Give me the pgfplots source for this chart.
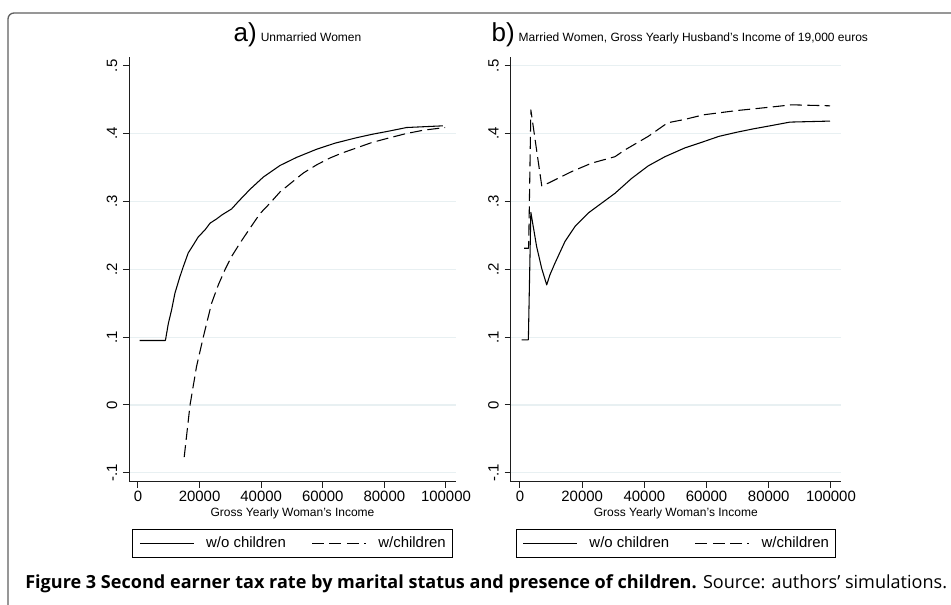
\documentclass[border=0pt]{standalone}
\usepackage{pgfplots}
\pgfplotsset{compat=1.18}
\usepackage{fontspec}
\setmainfont{Liberation Sans}
\newfontfamily\capfont{Open Sans}
\definecolor{gridc}{RGB}{232,240,242}
\definecolor{framec}{RGB}{95,95,95}
\definecolor{axc}{RGB}{30,30,30}

\pgfplotstableread{
x y
500 0.095
8900 0.095
9850 0.120
10900 0.140
12010 0.165
13600 0.189
14720 0.204
16300 0.224
17970 0.236
19600 0.248
21750 0.258
23400 0.268
25540 0.2743
27200 0.280
30400 0.289
32600 0.300
36400 0.318
40700 0.336
46100 0.353
51500 0.365
58000 0.377
64000 0.386
71000 0.394
76000 0.399
81800 0.404
87200 0.409
99000 0.4115
}\aSolid
\pgfplotstableread{
x y
15000 -0.077
16900 0.000
19000 0.0565
21200 0.100
23900 0.150
26080 0.177
28200 0.199
30410 0.219
33100 0.2385
36360 0.2605
39600 0.282
42860 0.2975
46100 0.314
49890 0.328
53700 0.342
58010 0.354
62300 0.364
66000 0.371
71000 0.379
76000 0.387
81800 0.394
87000 0.400
92600 0.405
99700 0.409
}\aDash
\pgfplotstableread{
x y
500 0.096
2700 0.096
3500 0.284
5360 0.2335
6970 0.2016
8600 0.177
9650 0.192
11250 0.209
14470 0.241
17680 0.263
21970 0.283
26260 0.2975
30550 0.312
35910 0.334
41260 0.3525
46620 0.366
53050 0.379
58940 0.388
64000 0.396
69680 0.402
75000 0.407
80390 0.4115
86820 0.417
99700 0.4185
}\bSolid
\pgfplotstableread{
x y
1300 0.231
2800 0.231
3500 0.435
7000 0.323
9100 0.327
16600 0.344
23050 0.3565
30550 0.366
33760 0.376
41260 0.396
47500 0.416
53050 0.421
58940 0.4277
69680 0.434
80390 0.439
87360 0.4425
99700 0.441
}\bDash

\pgfplotsset{
  stata/.style={
    scale only axis,
    height=318.75pt,
    axis x line*=bottom, axis y line*=left,
    axis line style={line width=0.75pt, axc, -},
    tick align=outside, major tick length=4.5pt,
    tick style={line width=0.75pt, axc},
    ymin=-0.1136, ymax=0.513,
    scaled x ticks=false, scaled y ticks=false,
    xtick={0,20000,40000,60000,80000,100000},
    xticklabels={0,20000,40000,60000,80000,100000},
    ytick={-0.1,0,0.1,0.2,0.3,0.4},
    yticklabels={-.1,0,.1,.2,.3,.4},
    extra y ticks={0.5}, extra y tick labels={.5},
    ymajorgrids,
    grid style={gridc, line width=0.9pt},
    xticklabel style={font=\fontsize{11.2}{12}\selectfont, anchor=base},
    yticklabel style={font=\fontsize{11.2}{12}\selectfont, rotate=90, anchor=base},
    xticklabel shift=10.5pt,
    yticklabel shift=4.5pt,
    xlabel={Gross Yearly Woman's Income},
    xlabel style={font=\fontsize{9}{10}\selectfont, at={(axis description cs:0.5,0)}, anchor=base, yshift=-26.25pt},
    title style={at={(axis description cs:0.5,1)}, anchor=base, yshift=5.25pt},
    legend columns=2,
    legend style={at={(axis description cs:0.5,0)}, anchor=north, yshift=-35pt,
      draw=black, line width=0.75pt, font=\fontsize{11.2}{12}\selectfont,
      inner xsep=4.8pt, inner ysep=5.25pt,
      nodes={inner sep=0pt, text height=8.5pt, text depth=2.5pt},
      /tikz/every odd column/.append style={column sep=8.8pt},
      /tikz/every even column/.append style={column sep=19.3pt}},
    legend image code/.code={\draw[#1] (0pt,0pt) -- (40.5pt,0pt);},
  },
  solidl/.style={black, line width=0.8pt, line join=round},
  dashl/.style={black, line width=0.8pt, line join=round, dash pattern=on 9pt off 4pt},
}

\begin{document}
\begin{tikzpicture}
\useasboundingbox (0pt,0pt) rectangle (713.25pt,453.75pt);
\begin{scope}
\clip (0pt,0pt) rectangle (713.25pt,453.75pt);
\draw[framec, line width=1pt, rounded corners=4.5pt] (6pt,-15pt) -- (6pt,444pt) -- (735pt,444pt);
\end{scope}

\begin{axis}[stata, at={(96.75pt,92.25pt)}, anchor=south west, width=245.25pt,
  xmin=-2920, xmax=103250,
  extra y tick style={grid=none},
  title={\hspace*{7.5pt}\fontsize{19.5}{20}\selectfont a)\hspace{3pt}\fontsize{9}{10}\selectfont Unmarried Women}]
\addplot[solidl] table {\aSolid};
\addlegendentry{w/o children}
\addplot[dashl] table {\aDash};
\addlegendentry{w/children}
\end{axis}

\begin{axis}[stata, at={(383pt,92.25pt)}, anchor=south west, width=247.7pt,
  xmin=-2990, xmax=103215,
  title={\hspace*{6pt}\fontsize{19.5}{20}\selectfont b)\hspace{3pt}\fontsize{9}{10}\selectfont Married Women, Gross Yearly Husband's Income of 19,000 euros}]
\addplot[solidl] table {\bSolid};
\addlegendentry{w/o children}
\addplot[dashl] table {\bDash};
\addlegendentry{w/children}
\end{axis}

\node[anchor=base west, inner sep=0pt] at (18.75pt,12pt) {\capfont\fontsize{13.55}{16}\selectfont\textbf{Figure 3 Second earner tax rate by marital status and presence of children.} Source: authors’ simulations.};
\end{tikzpicture}
\end{document}
